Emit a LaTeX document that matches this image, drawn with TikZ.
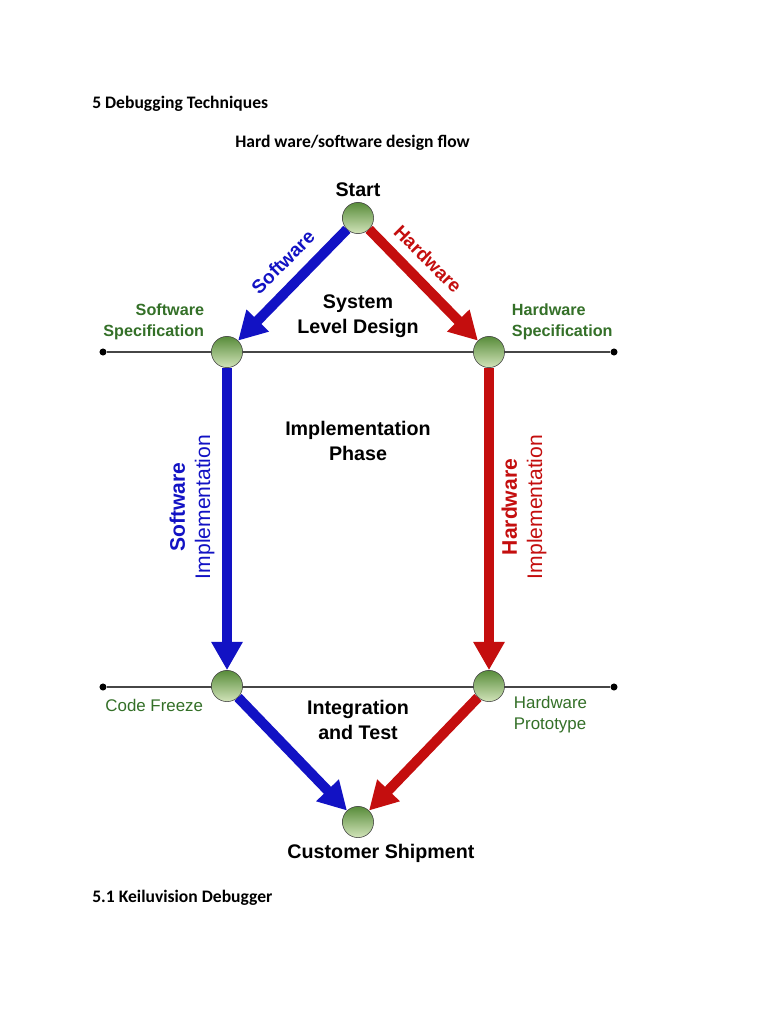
\documentclass[tikz,border=0pt]{standalone}
\usepackage{fontspec}
\setmainfont{Carlito}
\newfontfamily\diagfont{Liberation Sans}
\usepackage{tikz}
\usetikzlibrary{positioning, arrows.meta, calc}
\definecolor{swblue}{RGB}{18,18,196}
\definecolor{hwred}{RGB}{196,14,14}
\definecolor{specgreen}{RGB}{52,112,40}
\definecolor{balldark}{RGB}{88,140,58}
\definecolor{balllight}{RGB}{210,228,186}
\definecolor{rulegray}{RGB}{70,70,70}
\tikzset{
  milestone/.style={
    circle, draw=black!75, thin, minimum size=0.78cm, inner sep=0pt,
    top color=balldark, bottom color=balllight
  },
  dot/.style={circle, fill=black, inner sep=0pt, minimum size=5pt},
  flow arrow/.style={line width=7.1pt, -{Triangle[length=20pt,width=21pt]}},
  phase label/.style={font=\diagfont\fontsize{14}{17.5}\selectfont\bfseries, align=center},
  spec label/.style={font=\diagfont\fontsize{11.5}{15}\selectfont\bfseries, text=specgreen},
  proto label/.style={font=\diagfont\fontsize{12}{15}\selectfont, text=specgreen},
  branch label/.style={font=\diagfont\fontsize{15}{18}\selectfont\bfseries},
  diag label/.style={font=\diagfont\fontsize{13.5}{16}\selectfont\bfseries, inner sep=1pt},
  heading/.style={font=\fontsize{12.5}{15}\selectfont\bfseries, anchor=west, inner sep=0pt},
}
\begin{document}
\begin{tikzpicture}[x=0.025cm, y=-0.025cm]
  \useasboundingbox[fill=white] (0,0) rectangle (768,1024);

  % page text
  \node[heading] (h1) at (92,104) {5 Debugging Techniques};
  \node[heading] (h2) at (235,143) {Hard ware/software design flow};
  \node[heading] (h3) at (92,898) {5.1 Keiluvision Debugger};

  % phase rules
  \node[dot] (r1a) at (103,352) {};
  \node[dot] (r1b) at (614,352) {};
  \node[dot] (r2a) at (103,687) {};
  \node[dot] (r2b) at (614,687) {};
  \draw[rulegray, line width=1pt] (r1a) -- (r1b);
  \draw[rulegray, line width=1pt] (r2a) -- (r2b);

  % milestones
  \node[milestone] (start) at (358,218) {};
  \node[milestone] (swspec) at (227,352) {};
  \node[milestone] (hwspec) at (489,352) {};
  \node[milestone] (freeze) at (227,686) {};
  \node[milestone] (proto) at (489,686) {};
  \node[milestone] (ship) at (358,822) {};

  % flows
  \draw[flow arrow, swblue] (start) -- (swspec);
  \draw[flow arrow, hwred] (start) -- (hwspec);
  \draw[flow arrow, swblue] (swspec) -- (freeze);
  \draw[flow arrow, hwred] (hwspec) -- (proto);
  \draw[flow arrow, swblue] (freeze) -- (ship);
  \draw[flow arrow, hwred] (proto) -- (ship);

  % labels
  \node[phase label, above=0pt of start] (startlbl) {Start};
  \node[phase label] (syslbl) at (358,316) {System\\Level Design};
  \node[phase label] (impllbl) at (358,441) {Implementation\\Phase};
  \node[phase label] (intlbl) at (358,720) {Integration\\and Test};
  \node[phase label] (shiplbl) at (381,853) {Customer Shipment};
  \node[spec label, align=right, anchor=east] (swspeclbl) at (209,322) {Software\\Specification};
  \node[spec label, align=left, anchor=west] (hwspeclbl) at (507,322) {Hardware\\Specification};
  \node[proto label, anchor=east] (freezelbl) at (208,705) {Code Freeze};
  \node[proto label, align=left, anchor=west] (protolbl) at (509,715) {Hardware\\Prototype};
  \node[diag label, text=swblue, rotate=45] (swlbl) at (283,262) {Software};
  \node[diag label, text=hwred, rotate=-45] (hwlbl) at (428,259) {Hardware};
  \node[branch label, text=swblue, rotate=90, align=center] (swimpl) at (192,507)
    {Software\\{\mdseries Implementation}};
  \node[branch label, text=hwred, rotate=90, align=center] (hwimpl) at (524,507)
    {Hardware\\{\mdseries Implementation}};
\end{tikzpicture}
\end{document}
